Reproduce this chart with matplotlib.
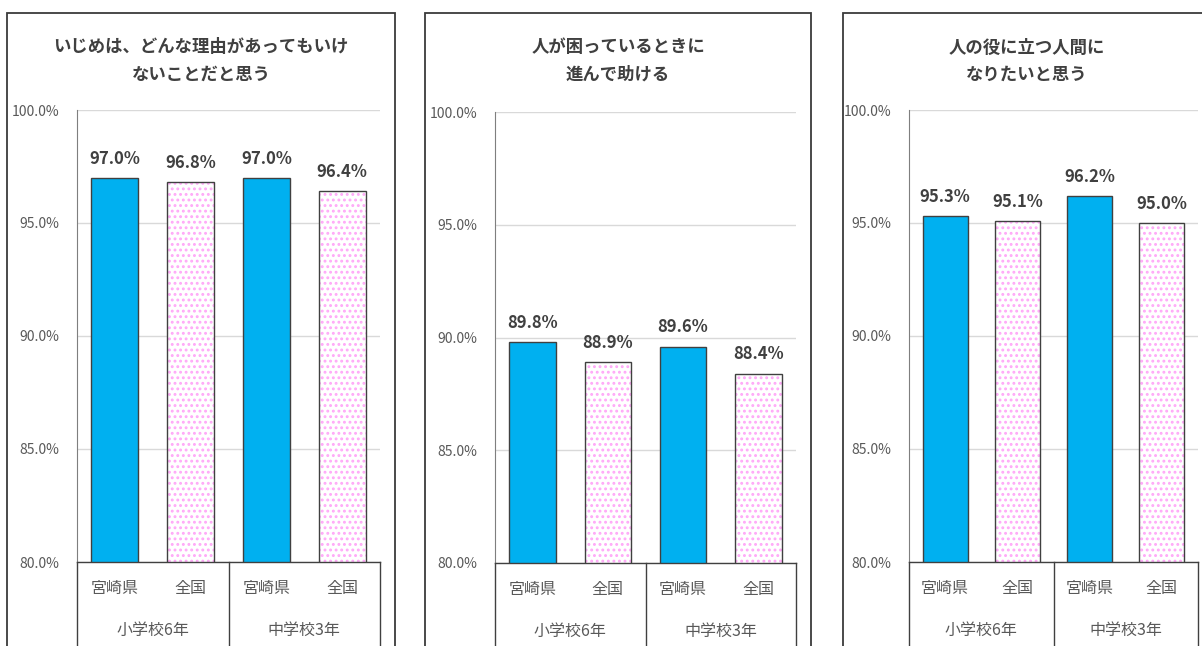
import numpy as np
import matplotlib.pyplot as plt
from matplotlib.patches import Rectangle
from matplotlib.transforms import blended_transform_factory

plt.rcParams['font.family'] = ['Noto Sans CJK JP', 'DejaVu Sans']
plt.rcParams['hatch.linewidth'] = 1.3

titles = ['いじめは、どんな理由があってもいけ\nないことだと思う',
          '人が困っているときに\n進んで助ける',
          '人の役に立つ人間に\nなりたいと思う']
bar_labels = ['宮崎県', '全国', '宮崎県', '全国']
group_labels = ['小学校6年', '中学校3年']
values = [[97.0, 96.8, 97.0, 96.4],
          [89.8, 88.9, 89.6, 88.4],
          [95.3, 95.1, 96.2, 95.0]]
yticks = [80, 85, 90, 95, 100]

W, H = 1202, 646
# plot areas in pixels (left, right, top, bottom)
areas = [(77, 380, 110, 562), (495, 796, 112, 563), (909, 1198, 110, 562)]
panels = [(7, 395), (425, 811), (843, 1230)]
title_x = [201, 618, 1027]

blue = '#00B0F0'
pink = '#FFA8F8'
edge = '#404040'
txt = '#595959'

fig = plt.figure(figsize=(W / 100, H / 100), dpi=100)

for k in range(3):
    pl, pr = panels[k]
    fig.patches.append(Rectangle((pl / W, -0.1), (pr - pl) / W, (H - 13) / H + 0.1,
                                 transform=fig.transFigure, fill=False,
                                 edgecolor='#3a3a3a', linewidth=1.3))
    fig.text(title_x[k] / W, 1 - 61 / H, titles[k], ha='center', va='center',
             fontsize=12.5, fontweight='bold', color='#404040', linespacing=1.65)

    l, r, t, b = areas[k]
    ax = fig.add_axes([l / W, 1 - b / H, (r - l) / W, (b - t) / H])
    x = np.arange(4)
    v = values[k]
    for i in range(4):
        if i % 2 == 0:
            ax.bar(x[i], v[i] - 80, bottom=80, width=0.62, color=blue,
                   edgecolor=edge, linewidth=1, zorder=3)
        else:
            ax.bar(x[i], v[i] - 80, bottom=80, width=0.62, color='white',
                   edgecolor=pink, hatch='...', linewidth=0, zorder=3)
            ax.bar(x[i], v[i] - 80, bottom=80, width=0.62, fill=False,
                   edgecolor=edge, linewidth=1, zorder=4)
        ax.text(x[i], v[i] + 0.45, f'{v[i]:.1f}%', ha='center', va='bottom',
                fontsize=12, fontweight='bold', color='#404040')

    ax.set_xlim(-0.5, 3.5)
    ax.set_ylim(80, 100)
    ax.set_yticks(yticks)
    ax.set_yticklabels([f'{y:.1f}%' for y in yticks], fontsize=10, color=txt)
    ax.tick_params(axis='y', length=0, pad=13)
    ax.set_xticks(x)
    ax.set_xticklabels(bar_labels, fontsize=11.5, color=txt)
    ax.tick_params(axis='x', length=0, pad=13)
    ax.grid(axis='y', color='#D9D9D9', linewidth=1, zorder=0)
    for s in ['top', 'right']:
        ax.spines[s].set_visible(False)
    ax.spines['left'].set_color('#7F7F7F')
    ax.spines['left'].set_linewidth(0.8)
    ax.spines['bottom'].set_color('#404040')
    ax.spines['bottom'].set_linewidth(1)

    trans = blended_transform_factory(ax.transData, ax.transAxes)
    for sx in [-0.5, 1.5, 3.5]:
        ax.plot([sx, sx], [0, -0.25], transform=trans, color='#404040',
                linewidth=1, clip_on=False)
    for g in range(2):
        ax.text(0.5 + 2 * g, -68 / (b - t), group_labels[g], transform=trans,
                ha='center', va='center', fontsize=11.5, color=txt)

fig.savefig('out.png', dpi=100)
